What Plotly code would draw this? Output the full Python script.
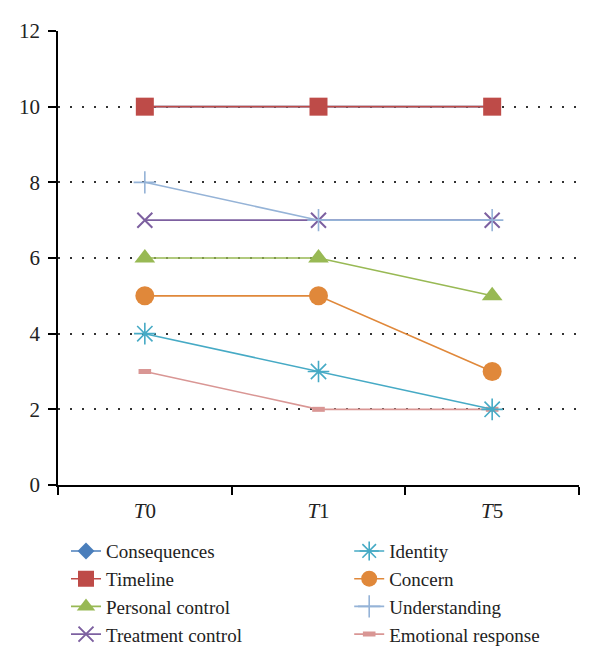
import plotly.graph_objects as go

categories = ["<i>T</i>0", "<i>T</i>1", "<i>T</i>5"]
consequences = [10, 10, 10]
timeline = [10, 10, 10]
personal_control = [6, 6, 5]
treatment_control = [7, 7, 7]
identity = [4, 3, 2]
concern = [5, 5, 3]
understanding = [8, 7, 7]
emotional_response = [3, 2, 2]

FONT = "Liberation Serif"

series = [
    # name, values, color, symbol, size, marker line width, legend
    ("Consequences", consequences, "#4A7EBB", "diamond", 13, 0, "legend"),
    ("Timeline", timeline, "#BE4B48", "square", 18, 0, "legend"),
    ("Personal control", personal_control, "#98B954", "triangle-up", 18, 0, "legend"),
    ("Treatment control", treatment_control, "#7D60A0", "x-thin-open", 15, 2, "legend"),
    ("Emotional response", emotional_response, "#D99694", "line-ew-open", 9, 5, "legend2"),
    ("Identity", identity, "#46AAC5", "asterisk-open", 18, 1.6, "legend2"),
    ("Concern", concern, "#E0883A", "circle", 19, 0, "legend2"),
    ("Understanding", understanding, "#95B3D7", "cross-thin-open", 16, 1.6, "legend2"),
]
legend_rank = {"Consequences": 1, "Timeline": 2, "Personal control": 3, "Treatment control": 4,
               "Identity": 5, "Concern": 6, "Understanding": 7, "Emotional response": 8}

fig = go.Figure()
for name, vals, color, sym, size, lw, leg in series:
    marker = dict(symbol=sym, size=size, color=color)
    if lw:
        marker["line"] = dict(width=lw, color=color)
    fig.add_trace(go.Scatter(
        x=categories, y=vals, name=name, mode="lines+markers",
        line=dict(color=color, width=1.6), marker=marker,
        legend=leg, legendrank=legend_rank[name],
    ))

fig.update_layout(
    width=600, height=666,
    margin=dict(l=58, r=21, t=31, b=181, autoexpand=False),
    plot_bgcolor="white", paper_bgcolor="white",
    font=dict(family=FONT, size=21, color="#222"),
    xaxis=dict(
        type="category", range=[-0.5, 2.5], showgrid=False,
        showline=True, linecolor="black", linewidth=1.5,
        ticks="outside", tickson="boundaries", ticklen=8, tickcolor="black", tickwidth=1.5,
        tickfont=dict(family=FONT, size=21), zeroline=False, ticklabelstandoff=6,
    ),
    yaxis=dict(
        range=[0, 12], dtick=2, showgrid=True, gridcolor="#333", griddash="2px,10px", gridwidth=1.5,
        showline=True, linecolor="black", linewidth=1.5,
        ticks="outside", ticklen=8, tickcolor="black", tickwidth=1.5,
        tickfont=dict(family=FONT, size=21), zeroline=False, ticklabelstandoff=4,
    ),
    legend=dict(
        xref="container", yref="container",
        x=0.11, y=0.201, xanchor="left", yanchor="top", orientation="v",
        font=dict(family=FONT, size=19), tracegroupgap=0, bgcolor="rgba(0,0,0,0)",
    ),
    legend2=dict(
        xref="container", yref="container",
        x=0.582, y=0.201, xanchor="left", yanchor="top", orientation="v",
        font=dict(family=FONT, size=19), tracegroupgap=0, bgcolor="rgba(0,0,0,0)",
    ),
)

fig.write_html("out.html", config={"displayModeBar": False},
               post_script="document.body.style.margin='0';")
